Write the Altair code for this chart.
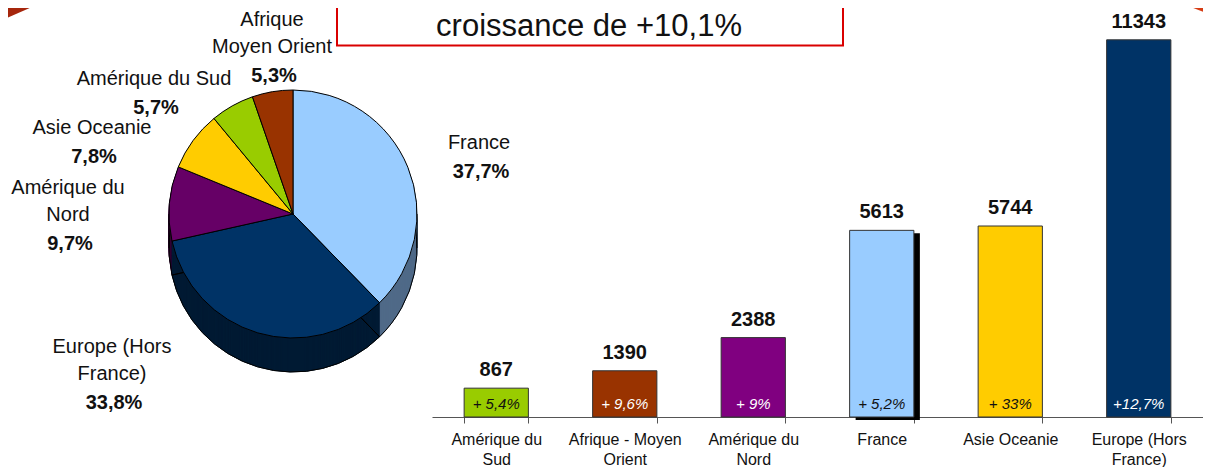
import math
import altair as alt
import pandas as pd

# ---------------- data ----------------
pie_regions = ["France", "Europe (Hors France)", "Amérique du Nord",
               "Asie Oceanie", "Amérique du Sud", "Afrique Moyen Orient"]
pie_names = ["France", "Europe (Hors\nFrance)", "Amérique du\nNord",
             "Asie Oceanie", "Amérique du Sud", "Afrique\nMoyen Orient"]
pie_shares = [37.7, 33.8, 9.7, 7.8, 5.7, 5.3]
pie_share_labels = ["37,7%", "33,8%", "9,7%", "7,8%", "5,7%", "5,3%"]

bar_regions = ["Amérique du Sud", "Afrique Moyen Orient", "Amérique du Nord",
               "France", "Asie Oceanie", "Europe (Hors France)"]
bar_ticks = ["Amérique du\nSud", "Afrique - Moyen\nOrient", "Amérique du\nNord",
             "France", "Asie Oceanie", "Europe (Hors\nFrance)"]
bar_values = [867, 1390, 2388, 5613, 5744, 11343]
bar_growth = ["+ 5,4%", "+ 9,6%", "+ 9%", "+ 5,2%", "+ 33%", "+12,7%"]

headline = "croissance de +10,1%"
highlight_region = "France"

# ---------------- styles ----------------
FONT = "Liberation Sans, Arial, sans-serif"
top_palette = ["#99CCFF", "#003366", "#660066", "#FFCC00", "#99CC00", "#993300"]
side_palette = ["#4F6A88", "#001A33", "#330033", "#806600", "#4D6600", "#4D1A00"]
bar_palette = ["#99CC00", "#993300", "#800080", "#99CCFF", "#FFCC00", "#003366"]
growth_palette = ["#111111", "#FFFFFF", "#FFFFFF", "#111111", "#111111", "#FFFFFF"]

# ---------------- layout (chart pixels) ----------------
W, H = 1195, 459
CX, CY, R, DEPTH = 285, 206, 124, 34
label_anchor = {
    "France": (471, 135),
    "Europe (Hors France)": (104, 339),
    "Amérique du Nord": (60, 180),
    "Asie Oceanie": (84, 120),
    "Amérique du Sud": (146, 71),
    "Afrique Moyen Orient": (264, 12),
}
AXIS_Y = 409

# ---------------- pie ----------------
pie = pd.DataFrame({"region": pie_regions, "share": pie_shares})
pie["t1"] = pie["share"].cumsum()
pie["t0"] = pie["t1"] - pie["share"]

theta_scale = alt.Scale(domain=[0, 100], range=[0, 2 * math.pi])
side_scale = alt.Scale(domain=pie_regions, range=side_palette)


def side_slab(d):
    return alt.Chart(pie).mark_arc(radius=R, strokeWidth=0.8).encode(
        x=alt.value(CX),
        y=alt.value(CY + d),
        theta=alt.Theta("t0:Q", scale=theta_scale),
        theta2=alt.Theta2("t1:Q"),
        fill=alt.Fill("region:N", scale=side_scale, legend=None),
        stroke=alt.Stroke("region:N", scale=side_scale, legend=None),
    )


side_layers = [side_slab(d) for d in range(DEPTH, 0, -1)]

rim_layer = alt.Chart(pie).mark_arc(radius=R, fillOpacity=0, stroke="black", strokeWidth=1).encode(
    x=alt.value(CX),
    y=alt.value(CY + DEPTH),
    theta=alt.Theta("t0:Q", scale=theta_scale),
    theta2=alt.Theta2("t1:Q"),
)
top_layer = alt.Chart(pie).mark_arc(radius=R, stroke="black", strokeWidth=1).encode(
    x=alt.value(CX),
    y=alt.value(CY),
    theta=alt.Theta("t0:Q", scale=theta_scale),
    theta2=alt.Theta2("t1:Q"),
    fill=alt.Fill("region:N", scale=alt.Scale(domain=pie_regions, range=top_palette), legend=None),
)
one = pd.DataFrame({"k": [0]})
edge_left = alt.Chart(one).mark_rule(color="black", strokeWidth=1).encode(
    x=alt.value(CX - R), y=alt.value(CY), y2=alt.value(CY + DEPTH)
)
edge_right = alt.Chart(one).mark_rule(color="black", strokeWidth=1).encode(
    x=alt.value(CX + R), y=alt.value(CY), y2=alt.value(CY + DEPTH)
)

name_rows, pct_rows = [], []
for reg, name, pct in zip(pie_regions, pie_names, pie_share_labels):
    lx, ly = label_anchor[reg]
    lines = name.split("\n")
    for i, ln in enumerate(lines):
        name_rows.append({"text": ln, "lx": lx, "ly": ly + i * 27})
    pct_rows.append({"text": pct, "lx": lx + 2, "ly": ly + (len(lines) - 1) * 27 + 29})

name_layer = alt.Chart(pd.DataFrame(name_rows)).mark_text(
    font=FONT, fontSize=20, color="#111111", align="center", baseline="middle"
).encode(
    x=alt.X("lx:Q", scale=None, axis=None),
    y=alt.Y("ly:Q", scale=None, axis=None),
    text="text:N",
)
pct_layer = alt.Chart(pd.DataFrame(pct_rows)).mark_text(
    font=FONT, fontSize=20, fontWeight="bold", color="#111111", align="center", baseline="middle"
).encode(
    x=alt.X("lx:Q", scale=None, axis=None),
    y=alt.Y("ly:Q", scale=None, axis=None),
    text="text:N",
)

pie_group = alt.layer(
    *side_layers, rim_layer, edge_left, edge_right, top_layer, name_layer, pct_layer
).resolve_scale(fill="independent", stroke="independent")

# ---------------- bars ----------------
bars = pd.DataFrame({"region": bar_regions, "tick": bar_ticks,
                     "value": bar_values, "growth": bar_growth})

x_enc = alt.X(
    "tick:N",
    scale=alt.Scale(domain=bar_ticks, range=[424, W], paddingInner=0.5, paddingOuter=0.25),
    axis=alt.Axis(
        title=None, labelAngle=0, offset=AXIS_Y - H, tickBand="extent",
        labelExpr="datum.label ? split(datum.label, '\\n') : ''",
        labelFont=FONT, labelFontSize=16,
        labelColor="#111111", labelLineHeight=20, labelPadding=8, tickSize=6,
        domainColor="#555555", tickColor="#555555", labelLimit=0, labelOverlap=False,
        grid=False,
    ),
)
y_scale = alt.Scale(domain=[0, 12300], range=[AXIS_Y, 0], nice=False, zero=True)

shadow = alt.Chart(bars).transform_filter(
    alt.datum.region == highlight_region
).mark_bar(color="black", xOffset=6, yOffset=3).encode(
    x=x_enc,
    y=alt.Y("value:Q", scale=y_scale, axis=None),
)
bar_layer = alt.Chart(bars).mark_bar(stroke="#333333", strokeWidth=1).encode(
    x=x_enc,
    y=alt.Y("value:Q", scale=y_scale, axis=None),
    fill=alt.Fill("region:N", scale=alt.Scale(domain=bar_regions, range=bar_palette), legend=None),
)
value_layer = alt.Chart(bars).mark_text(
    font=FONT, fontSize=20, fontWeight="bold", color="#111111", baseline="middle", dy=-18
).encode(
    x=x_enc,
    y=alt.Y("value:Q", scale=y_scale, axis=None),
    text=alt.Text("value:Q", format="d"),
)
growth_layer = alt.Chart(bars).mark_text(
    font=FONT, fontSize=15, fontStyle="italic", baseline="middle", dy=-13
).encode(
    x=x_enc,
    y=alt.datum(0),
    text="growth:N",
    color=alt.Color("region:N", scale=alt.Scale(domain=bar_regions, range=growth_palette), legend=None),
)
bar_group = alt.layer(shadow, bar_layer, value_layer, growth_layer)

# ---------------- decorations ----------------
box = alt.Chart(one).mark_rect(fillOpacity=0, stroke="#D90000", strokeWidth=2).encode(
    x=alt.value(329), x2=alt.value(835), y=alt.value(-10), y2=alt.value(37.5)
)
title = alt.Chart(one).mark_text(
    text=headline, font=FONT, fontSize=31, color="#111111", align="center", baseline="alphabetic"
).encode(x=alt.value(581), y=alt.value(28))
tri_left = alt.Chart(one).mark_point(
    shape="M -1 -1 L 1 -1 L -1 -0.125 Z", filled=True, color="#A6260C", size=2304, opacity=1
).encode(x=alt.value(16), y=alt.value(16))
tri_right = alt.Chart(one).mark_point(
    shape="M -1 -1 L 1 -1 L 1 -0.2105 Z", filled=True, color="#D63C14", size=1444, opacity=1
).encode(x=alt.value(1184), y=alt.value(11))
deco = alt.layer(box, title, tri_left, tri_right)

chart = alt.layer(deco, pie_group, bar_group).resolve_scale(
    x="independent", y="independent", fill="independent",
    color="independent", stroke="independent", theta="independent",
).properties(
    width=W, height=H, padding=0, autosize="none", background="white"
).configure_view(stroke=None)

chart.save("out.html", embed_options={"renderer": "svg", "actions": False})
